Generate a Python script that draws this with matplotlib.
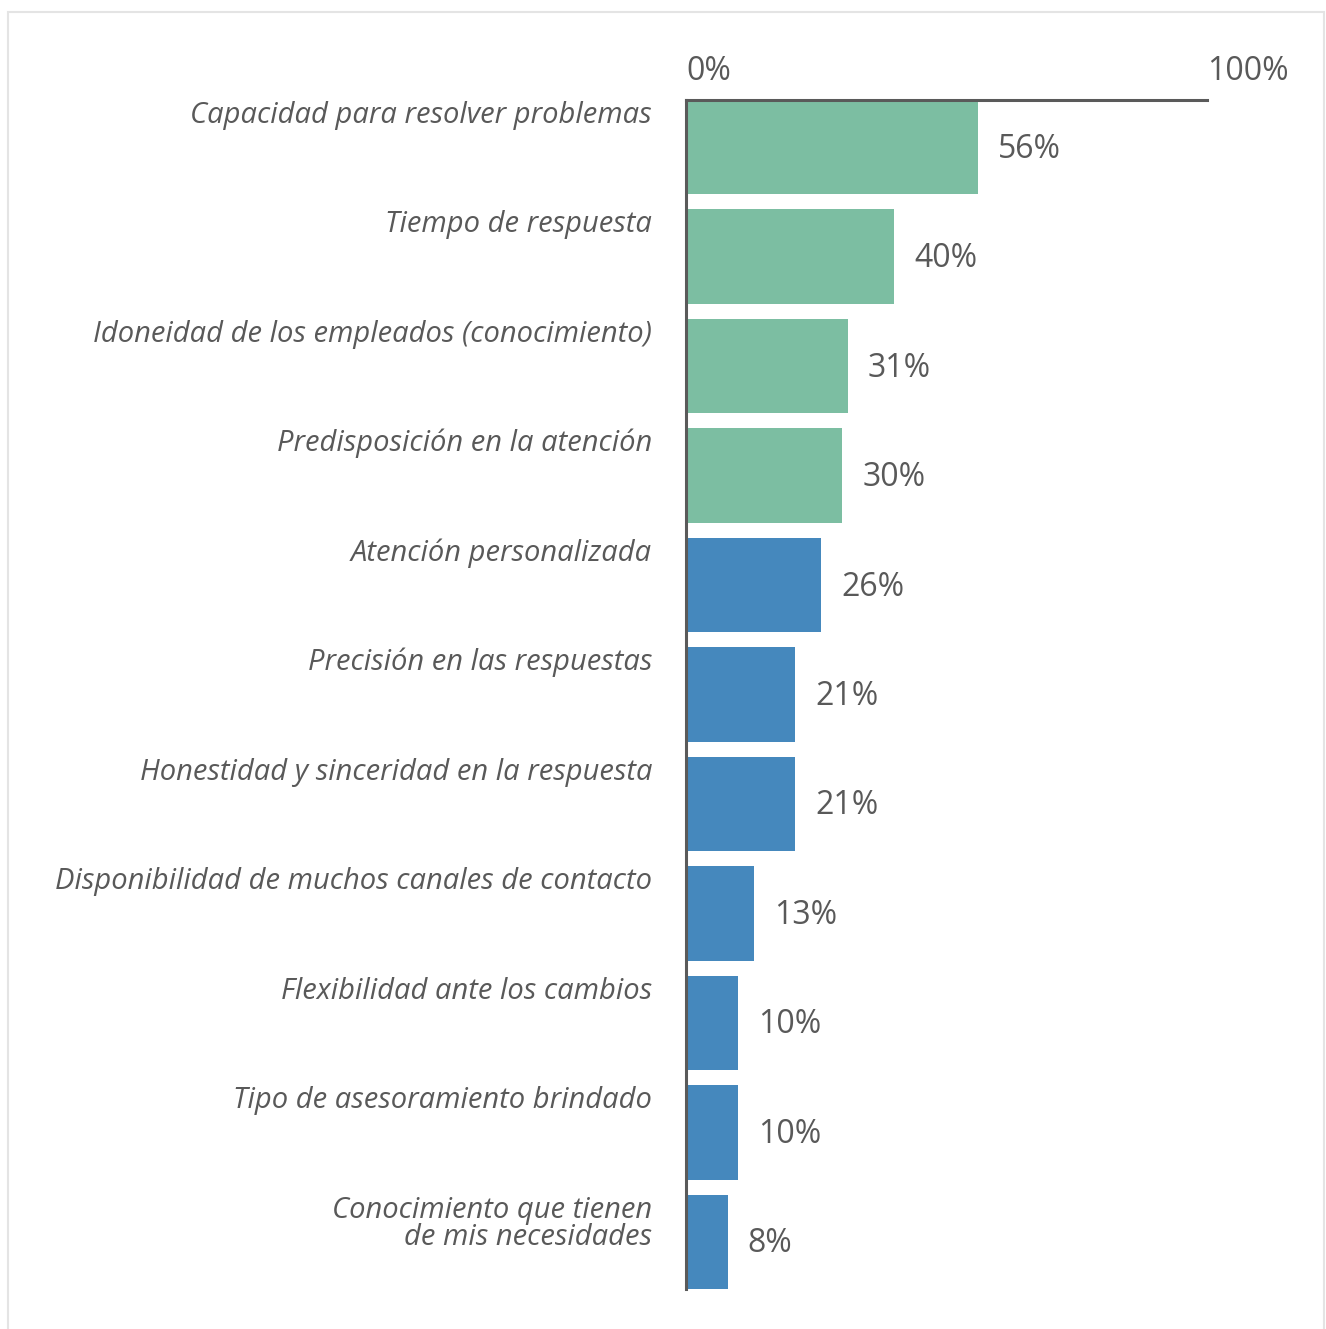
import matplotlib
matplotlib.use("Agg")
import matplotlib.pyplot as plt
from matplotlib.patches import Rectangle

plt.rcParams['font.family'] = ['Open Sans', 'DejaVu Sans']

categories = [
    "Capacidad para resolver problemas",
    "Tiempo de respuesta",
    "Idoneidad de los empleados (conocimiento)",
    "Predisposición en la atención",
    "Atención personalizada",
    "Precisión en las respuestas",
    "Honestidad y sinceridad en la respuesta",
    "Disponibilidad de muchos canales de contacto",
    "Flexibilidad ante los cambios",
    "Tipo de asesoramiento brindado",
    "Conocimiento que tienen\nde mis necesidades",
]
values = [56, 40, 31, 30, 26, 21, 21, 13, 10, 10, 8]
groups = ["top", "top", "top", "top", "rest", "rest", "rest", "rest", "rest", "rest", "rest"]
tick_values = [0, 100]
tick_labels = ["0%", "100%"]

group_colors = {"top": "#7cbea2", "rest": "#4588bd"}
text_color = "#595959"
axis_color = "#5a5a5a"

W, H = 1326, 1329
fig = plt.figure(figsize=(W / 100, H / 100), dpi=100)
fig.patch.set_facecolor("white")

# card outline
fig.add_artist(Rectangle((8 / W, -0.02), (1324 - 8) / W, 1.02 - 12 / H,
                         transform=fig.transFigure, facecolor="none",
                         edgecolor="#e4e4e4", linewidth=1.5))

left, right, top, bottom = 686, 1207, 100, 1289
ax = fig.add_axes([left / W, 1 - bottom / H, (right - left) / W, (bottom - top) / H])

bar_h = 0.86
ypos = list(range(len(values)))
ax.barh(ypos, values, height=bar_h,
        color=[group_colors[g] for g in groups], zorder=2)

ax.set_xlim(0, 100)
ax.set_ylim(len(values) - 1 + bar_h / 2, -bar_h / 2)

for s in ["right", "bottom"]:
    ax.spines[s].set_visible(False)
for s in ["top", "left"]:
    ax.spines[s].set_color(axis_color)
    ax.spines[s].set_linewidth(2.2)
    ax.spines[s].set_zorder(3)

ax.set_yticks([])
ax.xaxis.tick_top()
ax.set_xticks(tick_values)
ax.set_xticklabels(tick_labels)
ax.tick_params(axis="x", length=0, pad=9, labelsize=23, labelcolor=text_color)
for lab in ax.get_xticklabels():
    lab.set_horizontalalignment("left")

line_step = 27  # pixels between lines of a wrapped category label
for y, cat, v in zip(ypos, categories, values):
    for k, line in enumerate(cat.split("\n")):
        ax.annotate(line, xy=(0, y - bar_h / 2), xytext=(-34, -23 - line_step * k),
                    textcoords="offset pixels", ha="right", va="baseline",
                    fontsize=21, style="italic", color=text_color,
                    annotation_clip=False)
    ax.annotate(f"{v}%", xy=(v, y), xytext=(20, -2),
                textcoords="offset pixels", ha="left", va="center",
                fontsize=23, color=text_color, annotation_clip=False)

fig.savefig("out.png", dpi=100, facecolor="white")
